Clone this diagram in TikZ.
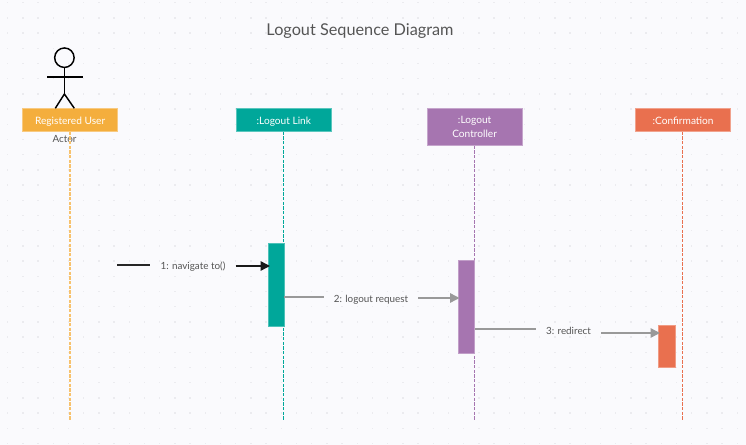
\documentclass[tikz,border=0pt]{standalone}
\usepackage{fontspec}
\setmainfont{Lato}
\usetikzlibrary{arrows.meta}
\definecolor{bg}{HTML}{FAFAFD}
\definecolor{griddot}{HTML}{EBEBEF}
\definecolor{cOrange}{HTML}{F4AE3D}
\definecolor{cTeal}{HTML}{00A79A}
\definecolor{cPurple}{HTML}{A675B0}
\definecolor{cRed}{HTML}{E9704F}
\definecolor{txt}{HTML}{555555}
\definecolor{msgGray}{HTML}{999999}
\tikzset{
  x=0.75pt,y=-0.75pt,
  head/.style={draw=#1!65!white,fill=#1,line width=0.6pt,text=white,font=\fontsize{7.6}{11}\selectfont,
    minimum width=71.6pt,inner sep=0pt,align=center,anchor=north west},
  oneline/.style={minimum height=17pt,text height=6.6pt,text depth=0pt},
  life/.style={draw=#1,line width=1.05pt,dash pattern=on 2.5pt off 1pt},
  activation/.style={fill=#1,draw=#1!70!white,line width=0.3pt,minimum width=12.4pt,inner sep=0pt,anchor=north west},
  msglabel/.style={text=txt,font=\fontsize{7.4}{9}\selectfont,inner xsep=7.5pt,inner ysep=1pt},
  msgline/.style={draw=#1,line width=1.05pt},
  msgarrow/.style={draw=#1,line width=1.05pt,-{Triangle[length=7pt,width=7pt]}},
  actorline/.style={draw=black,line width=1.1pt},
}
\begin{document}
\begin{tikzpicture}
\useasboundingbox (0,0) rectangle (746,445);
\fill[bg] (0,0) rectangle (746,445);
% dotted page grid
\foreach \i in {0,...,48}{\foreach \j in {0,...,29}{
  \fill[griddot] ({7.7+15.2*\i-0.7},{2.7+15.2*\j-0.7}) rectangle ++(1.4,1.4);
}}
\node[text=txt,font=\fontsize{12.2}{14}\selectfont] (title) at (360,31) {Logout Sequence Diagram};

% lifeline feet
\coordinate (endU) at (70,421);
\coordinate (endL) at (283.7,421);
\coordinate (endC) at (474.3,421);
\coordinate (endR) at (682.7,421);

% heads
\node[head=cOrange,oneline] (user) at (22,108.3) {Registered User};
\node[head=cTeal,oneline] (link) at (235.7,108.3) {:Logout Link};
\node[head=cPurple,minimum height=27.5pt] (ctrl) at (426.5,108.3) {:Logout\\[0pt]Controller};
\node[head=cRed,oneline] (conf) at (635,108.3) {:Confirmation};

% actor
\node[draw=black,line width=1.1pt,circle,minimum size=14.6pt,inner sep=0pt] (actorhead) at (64.4,57.7) {};
\coordinate (hip) at (64.4,94);
\coordinate (armL) at (47,77);
\coordinate (armR) at (82.7,77);
\coordinate (legL) at (55.3,108.3);
\coordinate (legR) at (74.3,108.3);
\draw[actorline] (actorhead.south) -- (hip);
\draw[actorline] (armL) -- (armR);
\draw[actorline] (legL) -- (hip) -- (legR);
\node[text=txt,font=\fontsize{7.4}{9}\selectfont] (actor) at (64.5,139) {Actor};

% lifelines
\draw[life=cOrange!75!white] (user.south -| endU) -- (endU);
\draw[life=cTeal] (link.south -| endL) -- (endL);
\draw[life=cPurple] (ctrl.south -| endC) -- (endC);
\draw[life=cRed] (conf.south -| endR) -- (endR);

% activations
\node[activation=cTeal,minimum height=62.2pt] (a1) at (267.8,243) {};
\node[activation=cPurple,minimum height=69.7pt] (a2) at (457.8,260.5) {};
\node[activation=cRed,minimum height=31.5pt] (a3) at (658.4,325) {};

% messages
\coordinate (m1s) at (117,265);
\coordinate (m1e) at (270,266);
\node[msglabel] (l1) at (193,267) {1: navigate to()};
\draw[msgline=black!85] (m1s) -- (m1s -| l1.west);
\draw[msgarrow=black!90] (m1e -| l1.east) -- (m1e);

\coordinate (m2s) at (284,297);
\coordinate (m2e) at (459.5,298);
\node[msglabel] (l2) at (371,299.5) {2: logout request};
\draw[msgline=msgGray] (m2s) -- (m2s -| l2.west);
\draw[msgarrow=msgGray] (m2e -| l2.east) -- (m2e);

\coordinate (m3s) at (475,329);
\coordinate (m3e) at (660,333);
\node[msglabel] (l3) at (568.5,330.5) {3: redirect};
\draw[msgline=msgGray] (m3s) -- (m3s -| l3.west);
\draw[msgarrow=msgGray] (m3e -| l3.east) -- (m3e);
\end{tikzpicture}
\end{document}
